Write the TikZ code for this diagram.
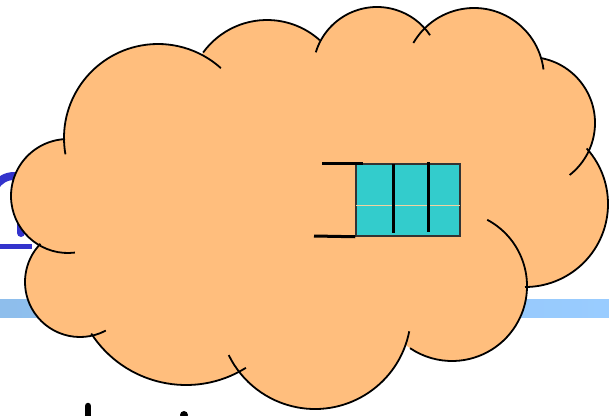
\documentclass[tikz,border=0pt]{standalone}
\usetikzlibrary{calc}
\definecolor{cloudorange}{RGB}{255,190,125}
\definecolor{queuecyan}{RGB}{51,204,204}
\definecolor{linkblue}{RGB}{51,51,204}
\definecolor{bandleft}{RGB}{142,190,236}
\definecolor{bandright}{RGB}{153,204,255}
\definecolor{seamcol}{RGB}{240,210,160}
\begin{document}
\begin{tikzpicture}[x=1pt,y=-1pt,
  cloudfill/.style={fill=cloudorange},
  cloudline/.style={draw=black,line width=1.8pt},
  queuebox/.style={draw=black!80,line width=1.5pt,fill=queuecyan,minimum width=104pt,minimum height=72pt,inner sep=0pt},
  queueline/.style={line width=3pt},
  bluestroke/.style={draw=linkblue,line width=8pt}]
\useasboundingbox (0,0) rectangle (609,415);
\clip (0,0) rectangle (609,415);
% background fragments
\fill[left color=bandleft,right color=bandright] (0,299) rectangle (609,317);
\draw[bluestroke] ([shift={(195:22)}]14,198) arc[start angle=195,end angle=290,radius=22];
\draw[bluestroke,line cap=round] (21,200) -- (21,233);
\fill[linkblue] (0,244) rectangle (32,249);
\draw[line width=6.5pt,line cap=round] (88,406) -- (88,425);
\fill (184,415) circle[radius=4];
% cloud
\def\lobes{68/196/57/83/267, 158/138/94/170/312, 267/99/79/216/312, 377/71/64/197/326, 474/78/70/210/353, 529/123/66/-80/52, 525/204/83/-42/90, 452/286/75/-62/124, 315/313/96/11/154, 186/272/113/58/147, 80/282/55/62/224}
\foreach \cx/\cy/\r/\a/\b in \lobes {\fill[cloudfill] (\cx,\cy) circle[radius=\r];}
\fill[cloudfill] (68,196) -- (158,138) -- (267,99) -- (377,71) -- (474,78) -- (529,123) -- (525,204) -- (452,286) -- (315,313) -- (186,272) -- (80,282) -- cycle;
\foreach \cx/\cy/\r/\a/\b in \lobes {\draw[cloudline] ([shift={(\a:\r)}]\cx,\cy) arc[start angle=\a,end angle=\b,radius=\r];}
% queue
\node[queuebox] (queue) at (408,200) {};
\coordinate (topin) at (322,163);
\coordinate (topend) at (363,163);
\coordinate (botin) at (314,236);
\draw[queueline] (topin) -- (topend);
\draw[queueline] (botin) -- (queue.south west);
\draw[seamcol,line width=0.8pt] ($(queue.west)+(1,5)$) -- ($(queue.east)+(-1,5)$);
\draw[queueline] (393,164) -- (393,233);
\draw[queueline] (428,162) -- (428,232);
\end{tikzpicture}
\end{document}
